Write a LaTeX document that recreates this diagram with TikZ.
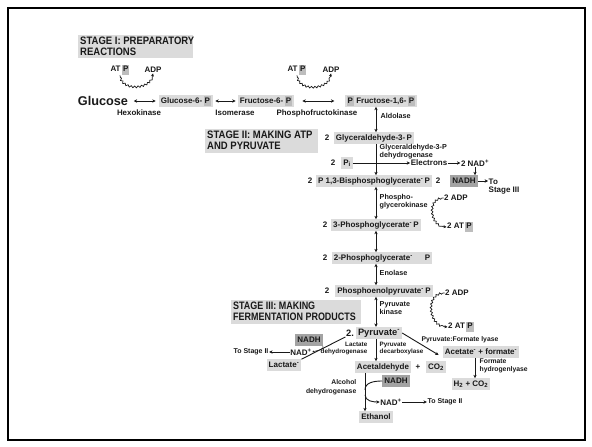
\documentclass[tikz,border=0pt]{standalone}
\usepackage{fontspec}
\setmainfont{Liberation Sans}
\usetikzlibrary{arrows.meta,decorations.pathmorphing,calc}
\definecolor{lgray}{gray}{0.86}
\definecolor{pgray}{gray}{0.74}
\definecolor{dgray}{gray}{0.64}
\definecolor{txt}{gray}{0.1}
\newcommand\Pb{{\setlength{\fboxsep}{1.1pt}\colorbox{pgray}{\vphantom{Ag}P}}}
\newcommand\hx[1]{\scalebox{0.88}[1]{#1}}
\newcommand\hxx[1]{\scalebox{0.83}[1]{#1}}
\begin{document}
\begin{tikzpicture}[x=1pt,y=-1pt,
  lab/.style={font=\bfseries\fontsize{8}{8.5}\selectfont, inner sep=0.5pt, text=txt},
  enzb/.style={lab, font=\bfseries\fontsize{7.9}{8.4}\selectfont},
  enz/.style={lab, font=\bfseries\fontsize{7.2}{7.8}\selectfont},
  enzs/.style={lab, font=\bfseries\fontsize{6.3}{7.6}\selectfont},
  lab2/.style={align=left, anchor=north west},
  box/.style={lab, fill=lgray, inner xsep=2pt, inner ysep=1.5pt, text height=6.2pt, text depth=2pt},
  nbox/.style={box, fill=dgray},
  hdr/.style={text=txt, font=\bfseries\fontsize{10.8}{11}\selectfont, align=left, anchor=north west, inner sep=0pt},
  dbl/.style={<->, >={Stealth[length=3.4pt,width=3.4pt]}, line width=0.9pt, draw=txt},
  sar/.style={->, >={Stealth[length=3.4pt,width=3.4pt]}, line width=0.9pt, draw=txt},
  ln/.style={line width=0.9pt, draw=txt},
  curly/.style={->, >={Stealth[length=3pt,width=3pt]}, line width=0.7pt, draw=txt, decorate,
     decoration={snake, amplitude=0.9pt, segment length=3.5pt, pre length=2pt, post length=3pt}}]
\useasboundingbox (0,0) rectangle (592,447);
\draw[line width=2pt] (8,8) rectangle (585,440);
\coordinate (col) at (376,0);
\coordinate (acol) at (365,0);

% Stage I
\fill[lgray] (78,35) rectangle (193,58);
\node[hdr] (s1) at (80,37) {\hx{STAGE I: PREPARATORY}\\\hx{REACTIONS}};
\node[lab] (atp1) at (120,70) {AT\,\Pb};
\node[lab] (adp1) at (153,70) {ADP};
\draw[curly] (atp1.south) to[out=-85,in=-95,looseness=1.2] (adp1.south);
\node[lab] (atp2) at (297,70) {AT\,\Pb};
\node[lab] (adp2) at (331,70) {ADP};
\draw[curly] (atp2.south) to[out=-85,in=-95,looseness=1.2] (adp2.south);

\node[lab, font=\bfseries\fontsize{12.7}{13}\selectfont] (glc) at (103,101) {Glucose};
\node[box] (g6p) at (186,101) {Glucose-6-\,\Pb};
\node[box] (f6p) at (266,101) {Fructose-6-\,\Pb};
\node[box] (f16) at (381,101) {\Pb\ Fructose-1,6-\,\Pb};
\draw[dbl, shorten <=5pt, shorten >=3pt] (glc) -- (g6p);
\draw[dbl, shorten <=2pt, shorten >=2pt] (g6p) -- (f6p);
\draw[dbl, shorten <=8pt, shorten >=10pt] (f6p) -- (f16);
\node[enzb] (hk) at (139,113) {Hexokinase};
\node[enzb] (iso) at (235,113) {Isomerase};
\node[enzb] (pfk) at (317,113) {Phosphofructokinase};

% Stage II
\fill[lgray] (205,129) rectangle (318,153);
\node[hdr] (s2) at (207,131) {\hx{STAGE II: MAKING ATP}\\\hx{AND PYRUVATE}};
\node[lab] (n2a) at (327,138) {2};
\node[box] (gap) at (374,138) {Glyceraldehyde-3-\,P};
\draw[dbl] (f16.south -| col) -- (gap.north -| col);
\node[enz, lab2] (ald) at (380,113) {Aldolase};

\node[enz, lab2] (gapdh) at (379,144) {Glyceraldehyde-3-P\\dehydrogenase};
\node[lab] (n2b) at (333,163) {2};
\node[box] (pi) at (347,163) {P\textsubscript{i}};
\node[lab] (el) at (429,163) {Electrons};
\node[lab] (nad1) at (475,163) {2 NAD\textsuperscript{+}};
\draw[sar] (pi) -- (el);
\draw[sar] (el) -- (nad1);

\node[lab] (n2c) at (310,181) {2};
\node[box] (bpg) at (374,181) {P 1,3-Bisphosphoglycerate\textsuperscript{-}\,P};
\draw[sar] (gap.south -| col) -- (bpg.north -| col);
\node[lab] (n2d) at (438,181) {2};
\node[nbox] (nadh1) at (464,181) {NADH};
\draw[sar] (nad1.south) -- (nad1.south |- nadh1.north);
\node[lab, lab2] (ts3) at (488,178) {To\\Stage III};
\draw[sar] (nadh1.east) -- (nadh1.east -| ts3.west);

\node[enz, lab2] (pgk) at (379,194) {Phospho-\\glycerokinase};
\node[lab] (adp3) at (456,198) {2 ADP};
\node[lab] (atp3) at (460,227) {2 AT\,\Pb};
\draw[curly] (adp3.west) to[out=180,in=180,looseness=1.4] (atp3.west);

\node[lab] (n2e) at (325,225) {2};
\node[box] (p3g) at (376,225) {3-Phosphoglycerate\textsuperscript{-}\,P};
\draw[dbl] (bpg.south -| col) -- (p3g.north -| col);

\node[lab] (n2f) at (325,258) {2};
\node[box] (p2g) at (382,258) {2-Phosphoglycerate\textsuperscript{-}\hspace{12pt}P};
\draw[dbl] (p3g.south -| col) -- (p2g.north -| col);

\node[enz, lab2] (eno) at (379,270) {Enolase};
\node[lab] (n2g) at (327,291) {2};
\node[box] (pep) at (384,291) {Phosphoenolpyruvate\textsuperscript{-}\,P};
\draw[dbl] (p2g.south -| col) -- (pep.north -| col);

\node[lab] (adp4) at (457,293) {2 ADP};
\node[lab] (atp4) at (461,327) {2 AT\,\Pb};
\draw[curly] (adp4.west) to[out=180,in=180,looseness=1.4] (atp4.west);
\node[enz, lab2] (pk) at (379,301) {Pyruvate\\kinase};

% Stage III
\fill[lgray] (231,300) rectangle (361,324);
\node[hdr] (s3) at (233,302) {\hxx{STAGE III: MAKING}\\\hxx{FERMENTATION PRODUCTS}};
\node[lab, font=\bfseries\fontsize{9.3}{10}\selectfont] (n2h) at (350,333) {2.};
\node[box, font=\bfseries\fontsize{9.3}{10}\selectfont, text height=7pt] (pyr) at (379,333) {Pyruvate\textsuperscript{-}};
\draw[dbl] (pep.south -| col) -- (pyr.north -| col);

% lactate branch
\node[nbox] (nadh3) at (309,340) {NADH};
\node[lab] (nad3) at (301,352) {NAD\textsuperscript{+}};
\node[lab, font=\bfseries\fontsize{7}{7.6}\selectfont] (ts2a) at (251,352) {To Stage II};
\draw[sar] (nad3.west) -- (ts2a.east);
\node[box] (lac) at (284,365) {Lactate\textsuperscript{-}};
\draw[ln] (n2h.south west) -- (lac.north east);
\draw[line width=0.5pt, draw=txt, ->, >={Stealth[length=2pt,width=2pt]}] (nadh3.south east) to[out=-60,in=20] (nad3.east);
\node[enzs, align=right, anchor=north east] (ldh) at (368,341) {Lactate\\dehydrogenase};

% decarboxylase branch
\node[enzs, lab2] (pdc) at (379,341) {Pyruvate\\decarboxylase};
\node[box] (acet) at (383,367) {Acetaldehyde};
\node[lab] (plus) at (418,367) {+};
\node[box] (co2) at (436,367) {CO\textsubscript{2}};
\draw[sar] (pyr.south -| col) -- (acet.north -| col);

% formate branch
\node[enzs, font=\bfseries\fontsize{6.8}{7.6}\selectfont] (pfl) at (460,340) {Pyruvate:Formate lyase};
\node[box] (acf) at (481,352) {Acetate\textsuperscript{-} + formate\textsuperscript{-}};
\draw[sar] (pyr.east) -- ($(acf.west)+(-4,3)$);
\coordinate (fcol) at (475,0);
\node[box] (h2) at (471,384) {H\textsubscript{2} + CO\textsubscript{2}};
\draw[sar] (acf.south -| fcol) -- (h2.north -| fcol);
\node[enzs, lab2, font=\bfseries\fontsize{6.8}{8}\selectfont] (fhl) at (479,358) {Formate\\hydrogenlyase};

% alcohol branch
\node[nbox] (nadh4) at (396,381) {NADH};
\node[lab] (nad4) at (391,402) {NAD\textsuperscript{+}};
\node[lab, font=\bfseries\fontsize{7}{7.6}\selectfont] (ts2b) at (445,402) {To Stage II};
\draw[sar] (nad4.east) -- (ts2b.west);
\node[box] (eth) at (376,417) {Ethanol};
\draw[sar] (acet.south -| acol) -- (eth.north -| acol);
\draw[ln] (nadh4.west) to[out=180,in=90] ($(acet.south -| acol)+(0,17)$);
\draw[sar] ($(acet.south -| acol)+(0,22)$) to[out=-90,in=180] (nad4.west);
\node[enzs, align=right, anchor=north east, font=\bfseries\fontsize{6.8}{8.5}\selectfont] (adh) at (357,379) {Alcohol\\dehydrogenase};
\end{tikzpicture}
\end{document}
